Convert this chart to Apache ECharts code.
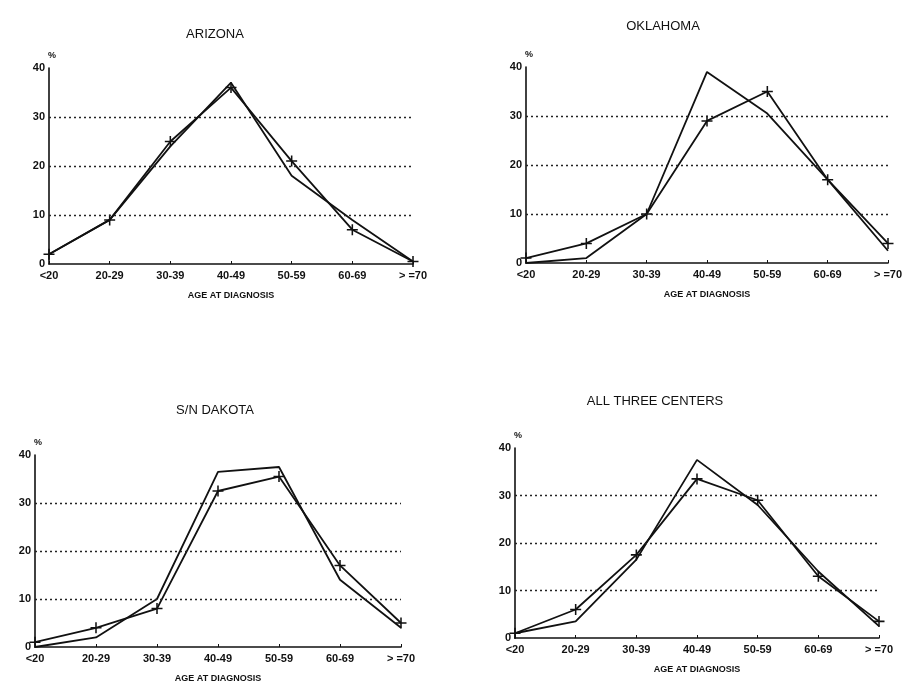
<!DOCTYPE html>
<html><head><meta charset="utf-8">
<script src="https://cdn.jsdelivr.net/npm/echarts@6/dist/echarts.min.js"></script>
<style>html,body{margin:0;padding:0;background:#fff}#c{width:908px;height:684px}</style>
</head><body><div id="c"></div>
<script>
const categories = ['<20','20-29','30-39','40-49','50-59','60-69','> =70'];
const yTicks = [0,10,20,30,40];
const gridValues = [10,20,30];
const panelTitles = ['ARIZONA','OKLAHOMA','S/N DAKOTA','ALL THREE CENTERS'];
const xAxisName = 'AGE AT DIAGNOSIS';

const arizonaLine = [2, 9, 24, 37, 18, 9, 0.5];
const arizonaPlus = [2, 9, 25, 36, 21, 7, 0.5];
const oklahomaLine = [0, 1, 10, 39, 30.5, 17, 2.5];
const oklahomaPlus = [1, 4, 10, 29, 35, 17, 4];
const dakotaLine = [0, 2, 10, 36.5, 37.5, 14, 4];
const dakotaPlus = [1, 4, 8, 32.5, 35.5, 17, 5];
const allLine = [1, 3.5, 16.5, 37.5, 28, 14, 2.5];
const allPlus = [1, 6, 17.5, 33.5, 29, 13, 3.5];

const lines = [arizonaLine, oklahomaLine, dakotaLine, allLine];
const pluses = [arizonaPlus, oklahomaPlus, dakotaPlus, allPlus];

const grids = [
  {left:49, top:68, width:364, height:196},
  {left:526, top:67, width:362, height:196},
  {left:35, top:455, width:366, height:194},
  {left:515, top:448, width:364, height:190}
];
const titlePos = [
  {left:210, top:23},
  {left:658, top:15},
  {left:210, top:399},
  {left:650, top:390}
];
const FONT = '"Liberation Sans", Arial, sans-serif';
const plusPath = 'path://M4.3,0H5.7V4.3H10V5.7H5.7V10H4.3V5.7H0V4.3H4.3Z';

const option = {
  animation:false,
  backgroundColor:'#fff',
  title: panelTitles.map((t,i)=>({text:t, left:titlePos[i].left, top:titlePos[i].top, textAlign:'center',
    textStyle:{fontFamily:FONT, fontSize:13, fontWeight:'normal', color:'#111'}})),
  grid: grids,
  xAxis: grids.map((g,i)=>({
    type:'category', gridIndex:i, data:categories, boundaryGap:false,
    name:xAxisName, nameLocation:'middle', nameGap:27,
    nameTextStyle:{fontFamily:FONT, fontSize:9, fontWeight:'bold', color:'#111'},
    axisLine:{lineStyle:{color:'#111', width:1.6}},
    axisTick:{inside:true, length:3, lineStyle:{color:'#111'}},
    axisLabel:{fontFamily:FONT, fontSize:11, fontWeight:'bold', color:'#111', margin:6, interval:0},
    splitLine:{show:false}
  })),
  yAxis: grids.map((g,i)=>({
    type:'value', gridIndex:i, min:yTicks[0], max:yTicks[yTicks.length-1], interval:10,
    name:'%', nameLocation:'end', nameGap:8,
    nameTextStyle:{fontFamily:FONT, fontSize:9, fontWeight:'bold', color:'#111', align:'left', padding:[0,0,0,-1]},
    axisLine:{show:true, lineStyle:{color:'#111', width:1.6}},
    axisTick:{show:false},
    axisLabel:{fontFamily:FONT, fontSize:11, fontWeight:'bold', color:'#111', margin:4},
    splitLine:{show:false}
  })),
  series: []
};
for (let i=0;i<4;i++){
  option.series.push({
    type:'line', xAxisIndex:i, yAxisIndex:i, data:lines[i], showSymbol:false, symbol:'none',
    lineStyle:{color:'#111', width:1.8}, z:3,
    markLine:{silent:true, symbol:'none', label:{show:false},
      lineStyle:{type:[2,3], color:'#222', width:1.4},
      data: gridValues.map(v=>({yAxis:v}))}
  });
  option.series.push({
    type:'line', xAxisIndex:i, yAxisIndex:i, data:pluses[i], symbol:plusPath, symbolSize:11,
    showAllSymbol:true,
    itemStyle:{color:'#111'}, lineStyle:{color:'#111', width:1.8}, z:4
  });
}
const chart = echarts.init(document.getElementById('c'), null, {renderer:'canvas'});
chart.setOption(option);
</script></body></html>
